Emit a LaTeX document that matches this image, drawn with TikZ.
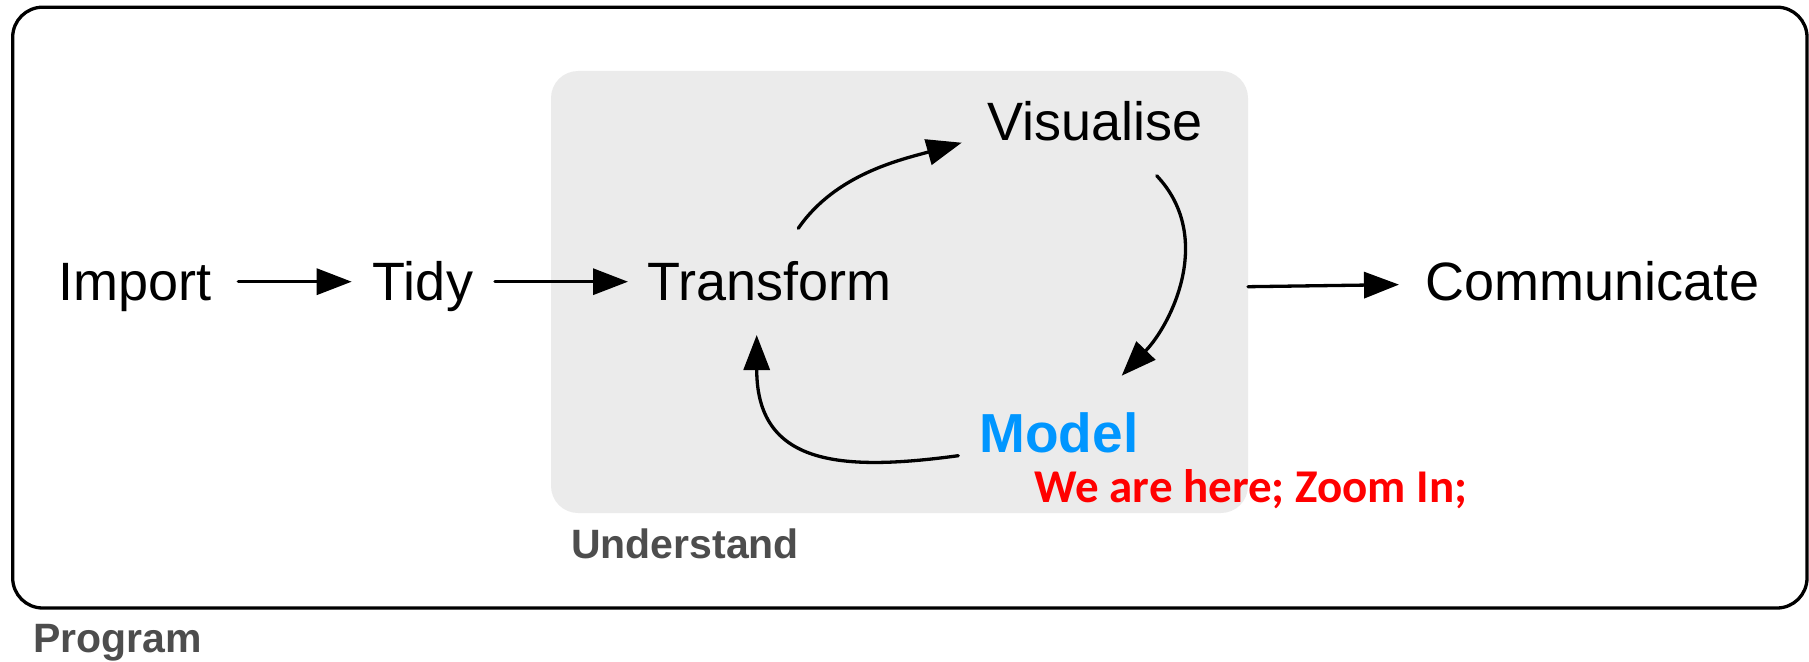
\documentclass[tikz,border=0pt]{standalone}
\usepackage{fontspec}
\setmainfont{Liberation Sans}
\newfontfamily\calib{Carlito}
\usetikzlibrary{arrows.meta}
\definecolor{boxgray}{HTML}{EBEBEB}
\definecolor{labgray}{HTML}{4D4D4D}
\definecolor{modelblue}{HTML}{0096FF}
\definecolor{herered}{HTML}{FF0000}
\tikzset{
  stage/.style={inner sep=0pt, anchor=base, font=\fontsize{54}{60}\selectfont},
  grouplab/.style={inner sep=0pt, anchor=base, text=labgray, font=\fontsize{41}{46}\selectfont\bfseries},
  flow/.style={line width=3.3pt, line cap=round, -{Triangle[length=35pt,width=26pt]}},
}
\begin{document}
\begin{tikzpicture}[x=1pt,y=-1pt]
\useasboundingbox (0,0) rectangle (1809,661);
% outer Program box
\node (progbox) [draw, line width=3.3pt, rounded corners=30pt, outer sep=0pt, inner sep=0pt,
  minimum width=1794.3pt, minimum height=600.8pt, anchor=north west] at (12.7,7.2) {};
% Understand box
\node (undbox) [fill=boxgray, rounded corners=27pt, outer sep=0pt, inner sep=0pt,
  minimum width=697pt, minimum height=442pt, anchor=north west] at (551,71) {};

% texts
\node (imp)   [stage] at (134.8,300) {Import};
\node (tidy)  [stage] at (423,300) {Tidy};
\node (trans) [stage] at (769.5,300) {Transform};
\node (vis)   [stage] at (1095,140) {Visualise};
\node (comm)  [stage] at (1592.5,300) {Communicate};
\node (model) [inner sep=0pt, anchor=base, text=modelblue, font=\fontsize{55}{60}\selectfont\bfseries] at (1059,452) {Model};
\node (here)  [inner sep=0pt, anchor=base, text=herered, font=\calib\fontsize{47}{52}\selectfont\bfseries] at (1251,502) {We are here; Zoom In;};
\node (und)   [grouplab] at (685,558.6) {Understand};
\node (prog)  [grouplab] at (117.5,652) {Program};

% connector end points
\coordinate (impE)   at (238.3,281.7);
\coordinate (tidyW)  at (351.7,281.7);
\coordinate (tidyE)  at (495,281.7);
\coordinate (transW) at (628,281.7);
\coordinate (transN) at (798.3,228.3);
\coordinate (visW)   at (961.7,142.7);
\coordinate (visS)   at (1156.7,175.7);
\coordinate (modelN) at (1121.7,375.7);
\coordinate (modelW) at (958.3,455.7);
\coordinate (transS) at (756.7,335);
\coordinate (undE)   at (1248,286.7);
\coordinate (commW)  at (1399,284.6);

\draw[flow] (impE) -- (tidyW);
\draw[flow] (tidyE) -- (transW);
\draw[flow] (transN) .. controls (835.7,173.8) and (902,159.4) .. (visW);
\draw[flow] (visS) .. controls (1214.9,237.3) and (1171.2,324.3) .. (modelN);
\draw[flow] (modelW) .. controls (839.4,471.8) and (756.7,465) .. (transS);
\draw[flow] (undE) -- (commW);
\end{tikzpicture}
\end{document}
